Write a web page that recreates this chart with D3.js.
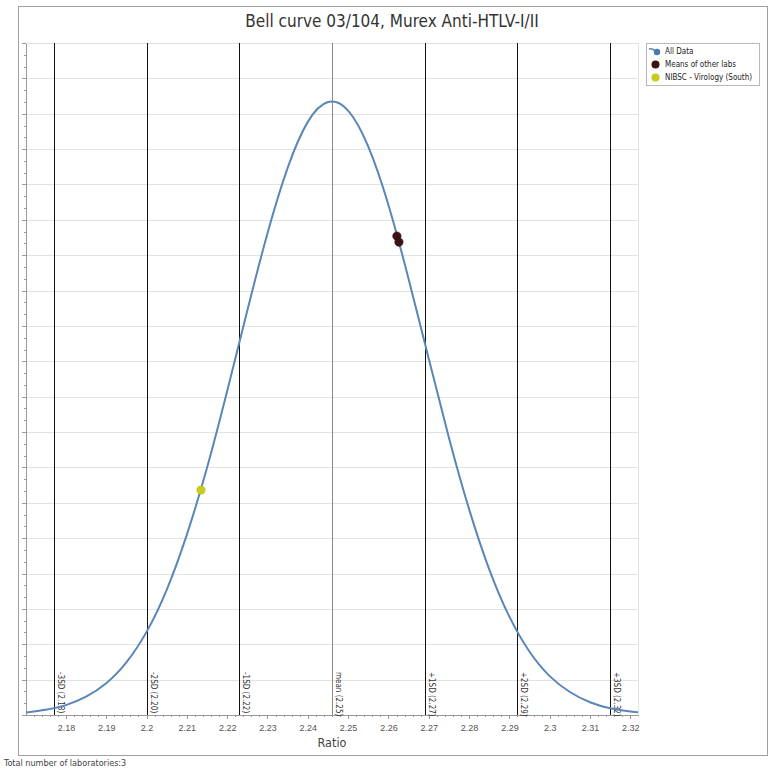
<!DOCTYPE html>
<html lang="en">
<head>
  <meta charset="UTF-8">
  <title>Bell curve 03/104, Murex Anti-HTLV-I/II</title>
  <script src="https://d3js.org/d3.v7.min.js"></script>
  <style>
    body {
      margin: 0;
      background: #fff;
      font-family: "DejaVu Sans Condensed", "DejaVu Sans", sans-serif;
    }
    svg { display: block; }
    .grid line { stroke: #e3e3e3; stroke-width: 1px; shape-rendering: crispEdges; }
    .axis path, .axis line { stroke: #999; shape-rendering: crispEdges; }
    .axis text { fill: #555; font-size: 9px; }
    .sd-line { stroke: #111; stroke-width: 1px; shape-rendering: crispEdges; }
    .sd-line.mean { stroke: #888; }
    .sd-label { font-size: 8px; fill: #333; }
    .legend text { font-size: 8px; fill: #222; }
  </style>
</head>
<body>
<svg width="780" height="773"></svg>
<script>
  // curve (ratio, density)
  const curveX = [2.170, 2.175, 2.180, 2.185, 2.190, 2.195, 2.200, 2.205, 2.210, 2.215,
                  2.220, 2.225, 2.230, 2.235, 2.240, 2.245, 2.250, 2.255, 2.260, 2.265,
                  2.270, 2.275, 2.280, 2.285, 2.290, 2.295, 2.300, 2.305, 2.310, 2.315,
                  2.320, 2.322];
  const curveY = [0.07, 0.15, 0.28, 0.52, 0.90, 1.49, 2.35, 3.54, 5.10, 6.99,
                  9.16, 11.44, 13.62, 15.47, 16.77, 17.33, 17.09, 16.07, 14.42, 12.33,
                  10.07, 7.84, 5.82, 4.12, 2.78, 1.79, 1.10, 0.65, 0.36, 0.19,
                  0.10, 0.08];

  // SD reference lines
  const sdNames  = ["-3SD", "-2SD", "-1SD", "mean", "+1SD", "+2SD", "+3SD"];
  const sdValues = [2.177, 2.200, 2.223, 2.246, 2.269, 2.292, 2.315];
  const sdText   = ["2.18", "2.20", "2.22", "2.25", "2.27", "2.29", "2.32"];

  // lab points
  const otherLabsX = [2.2621, 2.2626];
  const otherLabsY = [13.54, 13.37];
  const nibscX = [2.2135];
  const nibscY = [6.36];

  const xTicks = [2.18, 2.19, 2.20, 2.21, 2.22, 2.23, 2.24, 2.25, 2.26, 2.27, 2.28, 2.29, 2.30, 2.31, 2.32];
  const xTickLabels = ["2.18", "2.19", "2.2", "2.21", "2.22", "2.23", "2.24", "2.25", "2.26", "2.27", "2.28", "2.29", "2.3", "2.31", "2.32"];
  const legendNames = ["All Data", "Means of other labs", "NIBSC - Virology (South)"];

  const title = "Bell curve 03/104, Murex Anti-HTLV-I/II";
  const footer = "Total number of laboratories:3";

  const svg = d3.select("svg");
  const plotL = 26, plotR = 638, plotT = 43, plotB = 715;

  const x = d3.scaleLinear().domain([2.1701, 2.3219]).range([plotL, plotR]);
  const y = d3.scaleLinear().domain([0, 19]).range([plotB, plotT]);

  // outer frame
  svg.append("rect")
          .attr("x", 18.5).attr("y", 6.5)
          .attr("width", 749).attr("height", 749)
          .attr("fill", "none")
          .attr("stroke", "#a0a0a0");

  svg.append("text")
          .attr("x", 392).attr("y", 27)
          .attr("text-anchor", "middle")
          .attr("font-size", 17)
          .attr("fill", "#333")
          .text(title);

  // horizontal grid
  svg.append("g").attr("class", "grid")
          .selectAll("line")
          .data(d3.range(1, 20))
          .join("line")
          .attr("x1", plotL).attr("x2", plotR)
          .attr("y1", d => Math.round(y(d)) + 0.5)
          .attr("y2", d => Math.round(y(d)) + 0.5);

  svg.append("line")
          .attr("x1", plotR + 0.5).attr("x2", plotR + 0.5)
          .attr("y1", plotT).attr("y2", plotB)
          .attr("stroke", "#e3e3e3");

  // y axis (no labels)
  const yMinor = d3.range(0, 19.01, 1 / 3);
  svg.append("g").attr("class", "axis")
          .attr("transform", `translate(${plotL},0)`)
          .call(d3.axisLeft(y).tickValues(yMinor).tickSize(2).tickFormat(""))
          .call(g => g.select(".domain").remove());
  svg.append("g").attr("class", "axis")
          .attr("transform", `translate(${plotL},0)`)
          .call(d3.axisLeft(y).tickValues(d3.range(0, 20)).tickSize(4).tickSizeOuter(0).tickFormat(""));

  // x axis
  const xMinor = d3.range(2.172, 2.322, 0.002);
  svg.append("g").attr("class", "axis")
          .attr("transform", `translate(0,${plotB})`)
          .call(d3.axisBottom(x).tickValues(xMinor).tickSize(2).tickFormat(""))
          .call(g => g.select(".domain").remove());
  svg.append("g").attr("class", "axis")
          .attr("transform", `translate(0,${plotB})`)
          .call(d3.axisBottom(x).tickValues(xTicks).tickSize(4).tickSizeOuter(0)
                  .tickFormat((d, i) => xTickLabels[i]))
          .call(g => g.selectAll("text").attr("dy", "1.05em"));

  svg.append("text")
          .attr("x", (plotL + plotR) / 2).attr("y", 747)
          .attr("text-anchor", "middle")
          .attr("font-size", 12.5)
          .attr("fill", "#444")
          .text("Ratio");

  // SD lines
  const sd = svg.append("g");
  sd.selectAll("line")
          .data(sdValues)
          .join("line")
          .attr("class", (d, i) => sdNames[i] === "mean" ? "sd-line mean" : "sd-line")
          .attr("x1", d => Math.round(x(d)) + 0.5)
          .attr("x2", d => Math.round(x(d)) + 0.5)
          .attr("y1", plotT).attr("y2", plotB);
  sd.selectAll("text")
          .data(sdValues)
          .join("text")
          .attr("class", "sd-label")
          .attr("transform", d => `translate(${Math.round(x(d)) + 3.5},672) rotate(90)`)
          .text((d, i) => `${sdNames[i]} (${sdText[i]})`);

  // bell curve, clipped to the plot area
  svg.append("clipPath").attr("id", "plot-clip")
          .append("rect")
          .attr("x", plotL).attr("y", plotT)
          .attr("width", plotR - plotL).attr("height", plotB - plotT);
  const line = d3.line()
          .x(d => x(d[0]))
          .y(d => y(d[1]))
          .curve(d3.curveNatural);
  svg.append("path")
          .datum(curveX.map((v, i) => [v, curveY[i]]))
          .attr("d", line)
          .attr("clip-path", "url(#plot-clip)")
          .attr("fill", "none")
          .attr("stroke", "#5b86b8")
          .attr("stroke-width", 2);

  // points
  svg.append("g")
          .selectAll("circle")
          .data(otherLabsX.map((v, i) => [v, otherLabsY[i]]))
          .join("circle")
          .attr("cx", d => x(d[0]))
          .attr("cy", d => y(d[1]))
          .attr("r", 4.2)
          .attr("fill", "#3d1212")
          .attr("stroke", "#2a0a0a")
          .attr("stroke-width", 0.6);
  svg.append("g")
          .selectAll("circle")
          .data(nibscX.map((v, i) => [v, nibscY[i]]))
          .join("circle")
          .attr("cx", d => x(d[0]))
          .attr("cy", d => y(d[1]))
          .attr("r", 4.2)
          .attr("fill", "#c9cc1c")
          .attr("stroke", "#b8bb10")
          .attr("stroke-width", 0.6);

  // legend
  const legend = svg.append("g").attr("class", "legend");
  legend.append("rect")
          .attr("x", 646.5).attr("y", 43.5)
          .attr("width", 113).attr("height", 42)
          .attr("fill", "#fff")
          .attr("stroke", "#b8b8b8");
  legend.append("path")
          .attr("d", "M649,49 Q652,48 655,51")
          .attr("fill", "none")
          .attr("stroke", "#5b86b8")
          .attr("stroke-width", 1.5);
  legend.append("circle").attr("cx", 657).attr("cy", 52).attr("r", 3.2).attr("fill", "#4a78b0");
  legend.append("circle").attr("cx", 655.5).attr("cy", 64.5).attr("r", 4).attr("fill", "#3d1212");
  legend.append("circle").attr("cx", 655.5).attr("cy", 77.5).attr("r", 4).attr("fill", "#c9cc1c");
  legend.selectAll("text")
          .data(legendNames)
          .join("text")
          .attr("x", 665)
          .attr("y", (d, i) => 54 + i * 13)
          .text(d => d);

  svg.append("text")
          .attr("x", 4).attr("y", 766)
          .attr("font-size", 9)
          .attr("fill", "#444")
          .text(footer);
</script>
</body>
</html>
